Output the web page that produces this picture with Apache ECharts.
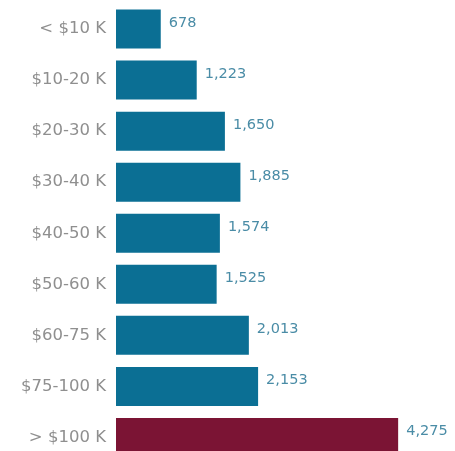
<!DOCTYPE html>
<html>
<head>
<meta charset="utf-8">
<script src="https://cdn.jsdelivr.net/npm/echarts@6/dist/echarts.min.js"></script>
<style>
html,body{margin:0;padding:0;background:#fff;}
#chart{width:455px;height:451px;}
</style>
</head>
<body>
<div id="chart"></div>
<script>
const categories = ['< $10 K','$10-20 K','$20-30 K','$30-40 K','$40-50 K','$50-60 K','$60-75 K','$75-100 K','> $100 K'];
const values = [678, 1223, 1650, 1885, 1574, 1525, 2013, 2153, 4275];
const highlightIndex = 8;

const chart = echarts.init(document.getElementById('chart'), null, {renderer:'canvas'});
chart.setOption({
  animation: false,
  backgroundColor: '#ffffff',
  grid: {left: 116, top: 3.5, width: 330, height: 459.5, containLabel: false, outerBoundsMode: 'none'},
  xAxis: {type:'value', min:0, max:5000, show:false},
  yAxis: {
    type:'category', data: categories, inverse: true,
    axisLine:{show:false}, axisTick:{show:false}, splitLine:{show:false},
    axisLabel:{margin:10, color:'#8f8f8f', fontFamily:'DejaVu Sans', fontSize:16.5}
  },
  series: [{
    type:'bar',
    barWidth: 39,
    data: values.map((v,i)=>({value:v, itemStyle:{color: i===highlightIndex ? '#7b1434' : '#0b6f94'}})),
    label:{
      show:true, position:'right', distance:8, offset:[0,-6],
      color:'#4a8ca6', fontFamily:'DejaVu Sans', fontSize:14.5,
      formatter: p => p.value.toLocaleString('en-US')
    }
  }]
});
</script>
</body>
</html>
